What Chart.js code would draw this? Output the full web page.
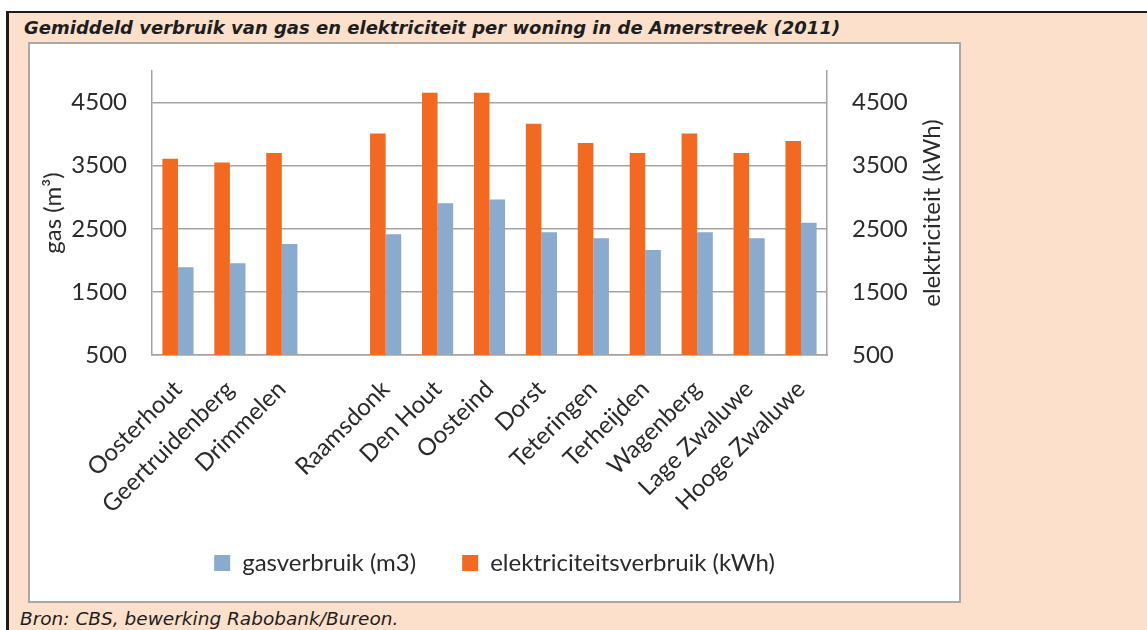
<!DOCTYPE html>
<html lang="nl">
<head>
<meta charset="utf-8">
<title>Gemiddeld verbruik van gas en elektriciteit</title>
<script src="https://cdn.jsdelivr.net/npm/chart.js@4/dist/chart.umd.min.js"></script>
<style>
    html, body { margin: 0; padding: 0; background: #fff; }
    body { width: 1147px; height: 630px; position: relative; overflow: hidden; }
    #kader {
        position: absolute; left: 6px; top: 11px; right: 0; bottom: 0;
        background: #FDE0CB;
        border-top: 2px solid #1c1c1c;
        border-left: 3px solid #1c1c1c;
    }
    #titel {
        position: absolute; left: 24px; top: 17px;
        font: italic bold 18px "DejaVu Sans", Verdana, sans-serif;
        color: #1e1e1e; white-space: nowrap;
    }
    #grafiek-box {
        position: absolute; left: 28px; top: 42px;
        width: 933px; height: 561px; box-sizing: border-box;
        background: #fff; border: 2px solid #A8A8A8;
    }
    #grafiek { display: block; }
    #bron {
        position: absolute; left: 20px; top: 608px;
        font: italic 18.5px "DejaVu Sans", Verdana, sans-serif;
        color: #1e1e1e; white-space: nowrap;
    }
</style>
</head>
<body>
<div id="kader"></div>
<div id="titel">Gemiddeld verbruik van gas en elektriciteit per woning in de Amerstreek (2011)</div>
<div id="grafiek-box"><canvas id="grafiek" width="929" height="557"></canvas></div>
<div id="bron">Bron: CBS, bewerking Rabobank/Bureon.</div>

<script>
// ── Data ──
const plaatsen = ["Oosterhout", "Geertruidenberg", "Drimmelen", "", "Raamsdonk", "Den Hout", "Oosteind",
                  "Dorst", "Teteringen", "Terheijden", "Wagenberg", "Lage Zwaluwe", "Hooge Zwaluwe"];
const gasverbruik   = [1890, 1955, 2260, null, 2415, 2905, 2965, 2445, 2350, 2165, 2445, 2350, 2595];
const elektriciteit = [3610, 3550, 3700, null, 4010, 4655, 4655, 4165, 3860, 3700, 4010, 3700, 3890];
const asTicks = [500, 1500, 2500, 3500, 4500];
const asMin = 500;
const asMax = 5000;

// ── Stijl ──
const ORANJE = "#F26A22";
const BLAUW  = "#8AAACE";
const GRIJS  = "#A3A3A3";
const TEKST  = "#2a2a2a";
const FONT   = "Lato, 'Open Sans', sans-serif";

Chart.defaults.font.family = FONT;
Chart.defaults.color = TEKST;

function vasteTicks(scale) {
    scale.ticks = asTicks.map(v => ({ value: v }));
}

// y-assen: vaste breedte, en geen extra ruimte boven/onder door tick-padding
function yBreedte(breedte) {
    return s => {
        s.width = breedte;
        s.paddingTop = 0;
        s.paddingBottom = 0;
    };
}

// as-titels zelf tekenen (rechts moet ook van onder naar boven lezen)
const asTitels = {
    id: "asTitels",
    afterDraw(chart) {
        const { ctx, chartArea } = chart;
        const midden = (chartArea.top + chartArea.bottom) / 2;
        ctx.save();
        ctx.fillStyle = TEKST;
        ctx.font = "24px " + FONT;
        ctx.textAlign = "center";
        ctx.textBaseline = "middle";

        ctx.save();
        ctx.translate(23, midden);
        ctx.rotate(-Math.PI / 2);
        ctx.fillText("gas (m³)", 0, 0);
        ctx.restore();

        ctx.save();
        ctx.translate(chartArea.right + 105, midden);
        ctx.rotate(-Math.PI / 2);
        ctx.fillText("elektriciteit (kWh)", 0, 0);
        ctx.restore();

        ctx.restore();
    }
};

new Chart(document.getElementById("grafiek"), {
    type: "bar",
    data: {
        labels: plaatsen,
        datasets: [
            {
                label: "elektriciteitsverbruik (kWh)",
                data: elektriciteit,
                backgroundColor: ORANJE,
                yAxisID: "y2",
                base: asMin,
            },
            {
                label: "gasverbruik (m3)\u2002",
                data: gasverbruik,
                backgroundColor: BLAUW,
                yAxisID: "y",
                base: asMin,
            }
        ]
    },
    options: {
        responsive: false,
        animation: false,
        barPercentage: 1,
        categoryPercentage: 0.6,
        layout: { padding: { left: 0, right: 0, top: 27, bottom: 16 } },
        plugins: {
            tooltip: { enabled: false },
            legend: {
                position: "bottom",
                reverse: true,
                labels: {
                    boxWidth: 16,
                    boxHeight: 16,
                    padding: 34,
                    font: { size: 24 },
                    color: TEKST,
                }
            }
        },
        scales: {
            x: {
                grid: { display: false, drawTicks: false },
                border: { color: GRIJS, width: 1.5 },
                ticks: {
                    autoSkip: false,
                    minRotation: 45,
                    maxRotation: 45,
                    padding: 20,
                    font: { size: 24 },
                },
                afterFit: s => { s.height = 162; }
            },
            y: {
                position: "left",
                min: asMin,
                max: asMax,
                afterBuildTicks: vasteTicks,
                grid: { color: GRIJS, lineWidth: 1.5, drawTicks: false },
                border: { color: GRIJS, width: 1.5 },
                ticks: { padding: 25, font: { size: 24 }, callback: v => String(v) },
                afterFit: yBreedte(122)
            },
            y2: {
                position: "right",
                min: asMin,
                max: asMax,
                afterBuildTicks: vasteTicks,
                grid: { display: false, drawTicks: false },
                border: { color: GRIJS, width: 1.5 },
                ticks: { padding: 25, font: { size: 24 }, callback: v => String(v) },
                afterFit: yBreedte(132)
            }
        }
    },
    plugins: [asTitels]
});
</script>
</body>
</html>
